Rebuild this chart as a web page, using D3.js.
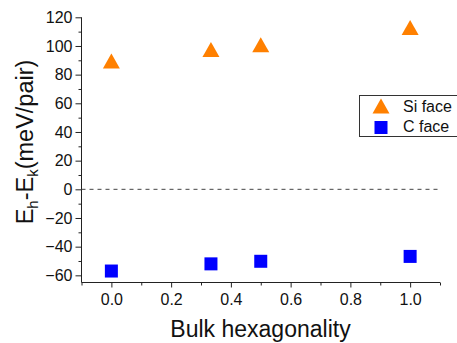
<!DOCTYPE html>
<html><head><meta charset="utf-8">
<script src="https://cdn.jsdelivr.net/npm/d3@7"></script>
<style>body{margin:0;background:#fff}svg{display:block}svg text{font-family:"Liberation Sans",Arial,sans-serif}</style>
</head><body>
<svg id="c" width="457" height="343"></svg>
<script>
const hexagonality = [0, 1/3, 0.5, 1.0];
const siFace = [89.5, 97.5, 100.8, 112.8];
const cFace = [-57.0, -52.0, -50.2, -46.8];
const yTicks = [-60, -40, -20, 0, 20, 40, 60, 80, 100, 120];
const xTicks = [0, 0.2, 0.4, 0.6, 0.8, 1.0];
const seriesNames = ["Si face", "C face"];

const svg = d3.select("#c");
const x = d3.scaleLinear().domain([-0.1, 1.1]).range([81.5, 440]);
const y = d3.scaleLinear().domain([-65, 120]).range([282.5, 17.3]);

const yMinor = d3.range(-60, 121, 10).filter(v => v % 20 !== 0);
const xMinor = d3.range(-1, 12).map(v => v / 10).filter(v => Math.round(v * 10) % 2 !== 0);

const gy = svg.append("g").attr("transform", "translate(81.5,0)");
gy.call(d3.axisLeft(y).tickValues(yTicks).tickSize(6).tickPadding(3).tickFormat(d3.format("d")));
gy.append("g").call(d3.axisLeft(y).tickValues(yMinor).tickSize(3).tickFormat(""))
  .select(".domain").remove();
gy.select(".domain").attr("d", `M0,${y(120)}V${y(-65)}`);

const gx = svg.append("g").attr("transform", "translate(0,282.5)");
gx.call(d3.axisBottom(x).tickValues(xTicks).tickSize(5).tickPadding(6).tickFormat(d3.format(".1f")));
gx.append("g").call(d3.axisBottom(x).tickValues(xMinor).tickSize(3).tickFormat(""))
  .select(".domain").remove();
gx.select(".domain").attr("d", `M${x(-0.1)},0H${x(1.1)}`);

svg.selectAll("g").attr("font-family", null);
svg.selectAll(".tick text").attr("font-size", 16).attr("fill", "#111");
svg.selectAll(".domain, .tick line").attr("stroke", "#222");

svg.append("line").attr("x1", x(-0.1)).attr("x2", x(1.1)).attr("y1", y(0)).attr("y2", y(0))
  .attr("stroke", "#444").attr("stroke-dasharray", "4,4").attr("stroke-width", 1);

// triangle centred on its bounding box: width 17, height 15
const triPath = "M0,-7.5L8.5,7.5L-8.5,7.5Z";
svg.append("g").selectAll("path").data(hexagonality).join("path")
  .attr("d", triPath).attr("fill", "#ff8000")
  .attr("transform", (d, i) => `translate(${x(d)},${y(siFace[i])})`);

const sq = 13;
svg.append("g").selectAll("rect").data(hexagonality).join("rect")
  .attr("x", d => x(d) - sq / 2).attr("y", (d, i) => y(cFace[i]) - sq / 2)
  .attr("width", sq).attr("height", sq).attr("fill", "#0000ff");

// legend
const lg = svg.append("g");
lg.append("rect").attr("x", 359.5).attr("y", 95.5).attr("width", 120).attr("height", 41)
  .attr("fill", "#fff").attr("stroke", "#333");
lg.append("path").attr("d", triPath).attr("fill", "#ff8000").attr("transform", "translate(381,106)");
lg.append("rect").attr("x", 374.5).attr("y", 121).attr("width", sq).attr("height", sq).attr("fill", "#0000ff");
lg.selectAll("text").data(seriesNames).join("text")
  .attr("x", 403).attr("y", (d, i) => 112 + i * 20).attr("font-size", 16).attr("fill", "#111").text(d => d);

// axis titles
svg.append("text").attr("x", 260.5).attr("y", 337).attr("text-anchor", "middle")
  .attr("font-size", 23).attr("fill", "#111").text("Bulk hexagonality");

const yt = svg.append("text").attr("transform", "translate(33,142) rotate(-90)")
  .attr("text-anchor", "middle").attr("font-size", 23.5).attr("fill", "#111");
yt.append("tspan").text("E");
yt.append("tspan").attr("font-size", 15).attr("dy", 5).text("h");
yt.append("tspan").attr("dy", -5).text("-E");
yt.append("tspan").attr("font-size", 15).attr("dy", 5).text("k");
yt.append("tspan").attr("dy", -5).text("(meV/pair)");
</script>
</body></html>
